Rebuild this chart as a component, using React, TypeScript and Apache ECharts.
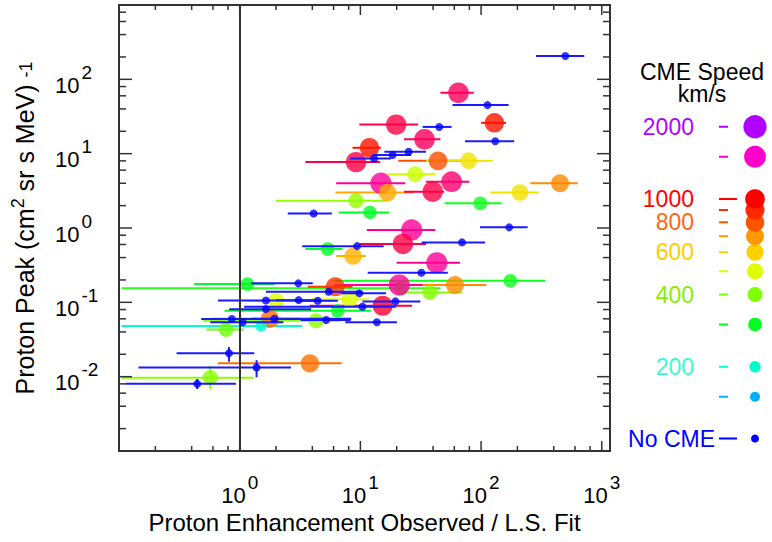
import React, { useEffect, useRef } from 'react';
import * as echarts from 'echarts';

const FONT = "'Liberation Sans', Arial, Helvetica, sans-serif";
const AXIS_COLOR = '#333333';

// ---- CME-associated events (x = enhancement, lo/hi = x error range, y = proton peak, speed km/s)
const cmeX = [21.7, 65, 19.8, 129, 34, 11.9, 9.2, 44, 79, 28.5, 14.8, 57, 451, 16.8, 39.7, 210, 9.2, 98.6, 12.0, 26.6, 22.5, 5.36, 8.7, 43, 1.16, 175, 21, 60.8, 6.2, 37.7, 2.0, 8.1, 15.3, 6.5, 1.78, 1.5, 4.29, 0.77, 3.82, 0.57];
const cmeXLo = [0.105, 46, 9.8, 100, 23, 8.6, 3.5, 20.6, 35, 16.8, 6.3, 35, 256, 6.2, 23, 119, 2.0, 50, 6.6, 11.3, 9.8, 3.5, 6.3, 20, 0.42, 6.0, 6.0, 32.8, 3.66, 20.4, 1.2, 3.9, 3.8, 0.75, 0.58, 0.105, 0.5, 0.53, 0.66, 0.105];
const cmeXHi = [46, 87, 30, 161, 46, 14.8, 14.6, 68, 125, 42, 23.5, 80, 631, 27.7, 49.5, 300, 16.8, 148, 17.3, 41.8, 35, 7.1, 11.1, 67, 1.94, 340, 60, 111, 8.6, 70, 6.0, 11.9, 26.8, 12.2, 3.2, 3.3, 6.9, 1.08, 7.0, 1.31];
const cmeY = [0.155, 66, 24.6, 26, 15.6, 12.0, 7.7, 8.0, 8.05, 5.3, 4.0, 4.2, 4.0, 3.0, 3.08, 3.0, 2.33, 2.15, 1.62, 0.94, 0.61, 0.52, 0.42, 0.34, 0.176, 0.195, 0.171, 0.171, 0.162, 0.136, 0.104, 0.11, 0.09, 0.077, 0.06, 0.048, 0.0565, 0.043, 0.0151, 0.0097];
const cmeYLo = [0, 0, 0, 0, 0, 0, 0, 0, 0, 0, 0, 0, 0, 0, 0, 0, 0, 0, 0, 0, 0, 0, 0, 0, 0, 0, 0, 0, 0, 0, 0, 0, 0, 0, 0, 0, 0, 0, 0, 0.0068];
const cmeYHi = [0, 0, 0, 0, 0, 0, 0, 0, 0, 0, 0, 0, 0, 0, 0, 0, 0, 0, 0, 0, 0, 0, 0, 0, 0, 0, 0, 0, 0, 0, 0, 0, 0, 0, 0, 0, 0, 0, 0, 0.0139];
const cmeSpeed = [330, 1200, 1150, 950, 1200, 950, 1150, 820, 560, 480, 1350, 1250, 720, 670, 1150, 560, 420, 310, 300, 1350, 1150, 300, 650, 1350, 300, 310, 1350, 720, 880, 400, 500, 500, 1100, 300, 760, 200, 410, 380, 760, 410];

// ---- Events without a CME
const noCmeX = [499, 113, 45, 131, 25.1, 18.5, 13, 4.1, 171, 69.5, 9.4, 32, 3.06, 5.46, 9.8, 1.65, 3.08, 4.43, 19.5, 10.4, 1.65, 0.86, 1.06, 1.94, 5.2, 13.7, 0.815, 1.38, 0.445];
const noCmeXLo = [285, 58, 32.8, 73.6, 15.8, 12.6, 8.2, 2.5, 98, 32.2, 3.3, 11.5, 1.24, 1.65, 6.9, 0.66, 2.0, 3.0, 10.4, 1.09, 0.82, 0.48, 0.57, 1.24, 3.2, 7.5, 0.30, 0.145, 0.114];
const noCmeXHi = [716, 169, 57, 188, 35, 26.3, 17.9, 5.8, 243, 108, 15.6, 53, 4.03, 10.4, 16.3, 4.7, 4.3, 6.5, 31.4, 19.7, 3.9, 3.4, 2.3, 8.4, 8.3, 20.1, 1.32, 2.66, 0.93];
const noCmeY = [206, 45, 22.9, 14.7, 10.6, 9.6, 8.6, 1.57, 1.02, 0.64, 0.57, 0.25, 0.18, 0.139, 0.132, 0.106, 0.107, 0.105, 0.103, 0.087, 0.081, 0.0596, 0.054, 0.06, 0.058, 0.054, 0.0206, 0.0133, 0.008];
const noCmeYLo = [0, 0, 0, 0, 0, 0, 0, 0, 0, 0, 0, 0, 0, 0, 0, 0, 0, 0, 0, 0, 0, 0, 0, 0, 0, 0, 0.0159, 0.0098, 0.0068];
const noCmeYHi = [0, 0, 0, 0, 0, 0, 0, 0, 0, 0, 0, 0, 0, 0, 0, 0, 0, 0, 0, 0, 0, 0, 0, 0, 0, 0, 0.025, 0.0167, 0.0093];

// ---- Axis ticks
const xDecades = [0.1, 1, 10, 100];
const yDecades = [0.001, 0.01, 0.1, 1, 10, 100];
const minorMultipliers = [2, 4, 6, 8];
const xMajorTicks = [0.1, 1, 10, 100, 1000];
const yMajorTicks = [0.001, 0.01, 0.1, 1, 10, 100, 1000];
const xLabelExponents = [0, 1, 2, 3];
const yLabelExponents = [-2, -1, 0, 1, 2];

// ---- Colour scale (CME speed)
const speedStops = [150, 200, 300, 400, 500, 600, 700, 800, 900, 1000, 1500, 2000];
const speedStopColors = ['#00b0ff', '#00ffcc', '#00ff22', '#80ff00', '#ddff00', '#ffd000', '#ff9900', '#ff5500', '#ff2a00', '#ff0000', '#ff00cc', '#b000ff'];
const legendLabelSpeeds = [2000, 1000, 800, 600, 400, 200];
const legendLabelColors = ['#b300ff', '#ff0000', '#ff6611', '#ffcc00', '#88ee00', '#33ffcc'];
const NO_CME_COLOR = '#0000ff';

function hexToRgb(h: string) {
  const n = parseInt(h.slice(1), 16);
  return [(n >> 16) & 255, (n >> 8) & 255, n & 255];
}
function speedColor(s: number): string {
  if (s <= speedStops[0]) return speedStopColors[0];
  for (let i = 0; i < speedStops.length - 1; i++) {
    if (s <= speedStops[i + 1]) {
      const t = (Math.log10(s) - Math.log10(speedStops[i])) / (Math.log10(speedStops[i + 1]) - Math.log10(speedStops[i]));
      const a = hexToRgb(speedStopColors[i]);
      const b = hexToRgb(speedStopColors[i + 1]);
      const c = a.map((v, k) => Math.round(v + (b[k] - v) * t));
      return `rgb(${c[0]},${c[1]},${c[2]})`;
    }
  }
  return speedStopColors[speedStops.length - 1];
}
function speedSize(s: number): number {
  return 10 + 11.8 * Math.log10(s / 150);
}
function legendY(s: number): number {
  return 199 - (Math.log10(s) - 3) * 240;
}

const RICH = {
  b: { fontSize: 22, fontFamily: FONT, color: '#000', padding: [12, 0, 0, 0] },
  e: { fontSize: 19, fontFamily: FONT, color: '#000', padding: [0, 0, 14, 2] },
};

function makeFormatter(allowed: number[]) {
  return (v: number) => {
    const l = Math.log10(v);
    const e = Math.round(l);
    if (Math.abs(l - e) > 0.01 || allowed.indexOf(e) < 0) return '';
    return `{b|10}{e|${e}}`;
  };
}

function buildOption() {
  const xMinor: number[] = [];
  xDecades.forEach((d) => minorMultipliers.forEach((m) => xMinor.push(d * m)));
  const yMinor: number[] = [];
  yDecades.forEach((d) => minorMultipliers.forEach((m) => yMinor.push(d * m)));

  const xTickData = [
    ...xMajorTicks.map((v) => [v, 1, 10]),
    ...xMinor.map((v) => [v, 1, 5]),
  ];
  const yTickData = [
    ...yMajorTicks.map((v) => [1, v, 13]),
    ...yMinor.map((v) => [1, v, 7]),
  ];

  const cmeErr = cmeX.map((x, i) => ({
    value: [x, cmeY[i], cmeXLo[i], cmeXHi[i], cmeYLo[i], cmeYHi[i]],
    itemStyle: { color: speedColor(cmeSpeed[i]) },
  }));
  const cmePts = cmeX.map((x, i) => ({
    value: [x, cmeY[i]],
    symbolSize: speedSize(cmeSpeed[i]),
    itemStyle: { color: speedColor(cmeSpeed[i]) },
  }));
  const noErr = noCmeX.map((x, i) => ({
    value: [x, noCmeY[i], noCmeXLo[i], noCmeXHi[i], noCmeYLo[i], noCmeYHi[i]],
    itemStyle: { color: '#1a1aff' },
  }));
  const noPts = noCmeX.map((x, i) => [x, noCmeY[i]]);

  const errRender = (params: any, api: any) => {
    const x = api.value(0), y = api.value(1), lo = api.value(2), hi = api.value(3), ylo = api.value(4), yhi = api.value(5);
    const color = api.visual('color');
    const p1 = api.coord([lo, y]);
    const p2 = api.coord([hi, y]);
    const children: any[] = [
      { type: 'line', shape: { x1: p1[0], y1: p1[1], x2: p2[0], y2: p2[1] }, style: { stroke: color, lineWidth: 2 } },
    ];
    if (ylo > 0 && yhi > 0) {
      const q1 = api.coord([x, ylo]);
      const q2 = api.coord([x, yhi]);
      children.push({ type: 'line', shape: { x1: q1[0], y1: q1[1], x2: q2[0], y2: q2[1] }, style: { stroke: color, lineWidth: 2 } });
    }
    return { type: 'group', children };
  };

  const xTickRender = (params: any, api: any) => {
    const cs = params.coordSys;
    const p = api.coord([api.value(0), 1]);
    const len = api.value(2);
    const bottom = cs.y + cs.height;
    return {
      type: 'group',
      children: [
        { type: 'line', shape: { x1: p[0], y1: bottom, x2: p[0], y2: bottom - len }, style: { stroke: AXIS_COLOR, lineWidth: 1.5 } },
        { type: 'line', shape: { x1: p[0], y1: cs.y, x2: p[0], y2: cs.y + len }, style: { stroke: AXIS_COLOR, lineWidth: 1.5 } },
      ],
    };
  };
  const yTickRender = (params: any, api: any) => {
    const cs = params.coordSys;
    const p = api.coord([1, api.value(1)]);
    const len = api.value(2);
    const right = cs.x + cs.width;
    return {
      type: 'group',
      children: [
        { type: 'line', shape: { x1: cs.x, y1: p[1], x2: cs.x + len, y2: p[1] }, style: { stroke: AXIS_COLOR, lineWidth: 1.5 } },
        { type: 'line', shape: { x1: right, y1: p[1], x2: right - len, y2: p[1] }, style: { stroke: AXIS_COLOR, lineWidth: 1.5 } },
      ],
    };
  };

  // legend graphics
  const graphics: any[] = [
    { type: 'text', x: 702, y: 83, style: { text: 'CME Speed\nkm/s', fill: '#000', font: `23px ${FONT}`, lineHeight: 22, align: 'center', verticalAlign: 'middle' } },
  ];
  speedStops.forEach((s) => {
    const y = legendY(s);
    const long = s === 1000;
    graphics.push({ type: 'line', shape: { x1: 719, y1: y, x2: long ? 737 : 728, y2: y }, style: { stroke: speedColor(s), lineWidth: 2 } });
    graphics.push({ type: 'circle', shape: { cx: 755, cy: y, r: speedSize(s) / 2 }, style: { fill: speedColor(s) } });
  });
  legendLabelSpeeds.forEach((s, i) => {
    graphics.push({ type: 'text', x: 694, y: legendY(s), style: { text: String(s), fill: legendLabelColors[i], font: `23px ${FONT}`, lineHeight: 20, align: 'right', verticalAlign: 'middle' } });
  });
  graphics.push({ type: 'text', x: 715, y: 438.5, style: { text: 'No CME', fill: NO_CME_COLOR, font: `23px ${FONT}`, lineHeight: 20, align: 'right', verticalAlign: 'middle' } });
  graphics.push({ type: 'line', shape: { x1: 719, y1: 438.5, x2: 737, y2: 438.5 }, style: { stroke: NO_CME_COLOR, lineWidth: 2 } });
  graphics.push({ type: 'circle', shape: { cx: 755, cy: 438.5, r: 4 }, style: { fill: NO_CME_COLOR } });

  const logAxisBase = {
    type: 'log',
    logBase: 10,
    axisTick: { show: false },
    splitLine: { show: false },
    axisLine: { show: true, onZero: false, lineStyle: { color: AXIS_COLOR, width: 2 } },
  };

  return {
    animation: false,
    backgroundColor: '#ffffff',
    textStyle: { fontFamily: FONT },
    grid: { left: 119, top: 5, width: 491, height: 446, containLabel: false },
    xAxis: [
      {
        ...logAxisBase,
        min: 0.1,
        max: 1170,
        position: 'bottom',
        axisLabel: { margin: 21, formatter: makeFormatter(xLabelExponents), rich: RICH, color: '#000' },
        name: 'Proton Enhancement Observed / L.S. Fit',
        nameLocation: 'middle',
        nameGap: 59,
        nameTextStyle: { fontSize: 24, color: '#000', fontFamily: FONT },
      },
      { ...logAxisBase, min: 0.1, max: 1170, position: 'top', axisLabel: { show: false } },
    ],
    yAxis: [
      {
        ...logAxisBase,
        min: 0.001,
        max: 1000,
        position: 'left',
        axisLabel: { margin: 64, align: 'left', formatter: makeFormatter(yLabelExponents), rich: RICH, color: '#000' },
        name: '{t|Proton Peak (cm}{s|2}{t| sr s MeV) }{u|-1}',
        nameLocation: 'middle',
        nameGap: 80,
        nameRotate: 90,
        nameTextStyle: {
          color: '#000',
          rich: {
            t: { fontSize: 25, fontFamily: FONT, color: '#000', padding: [2, 0, 0, 0] },
            s: { fontSize: 18, fontFamily: FONT, color: '#000', padding: [0, 0, 12, 0] },
            u: { fontSize: 18, fontFamily: FONT, color: '#000', padding: [3, 0, 0, 0] },
          },
        },
      },
      { ...logAxisBase, min: 0.001, max: 1000, position: 'right', axisLabel: { show: false } },
    ],
    graphic: graphics,
    series: [
      {
        type: 'custom',
        name: 'cmeErr',
        renderItem: errRender,
        data: cmeErr,
        z: 2,
        silent: true,
      },
      {
        type: 'scatter',
        name: 'cme',
        symbol: 'circle',
        data: cmePts,
        z: 3,
        silent: true,
        markLine: {
          silent: true,
          symbol: ['none', 'none'],
          label: { show: false },
          lineStyle: { color: AXIS_COLOR, width: 2, type: 'solid' },
          data: [{ xAxis: 1 }],
        },
      },
      {
        type: 'custom',
        name: 'noErr',
        renderItem: errRender,
        data: noErr,
        z: 4,
        silent: true,
      },
      {
        type: 'scatter',
        name: 'noCme',
        symbol: 'circle',
        symbolSize: 8,
        itemStyle: { color: NO_CME_COLOR },
        data: noPts,
        z: 5,
        silent: true,
      },
      { type: 'custom', name: 'xTicks', renderItem: xTickRender, data: xTickData, z: 6, silent: true },
      { type: 'custom', name: 'yTicks', renderItem: yTickRender, data: yTickData, z: 6, silent: true },
    ],
  };
}

export default function App() {
  const ref = useRef<HTMLDivElement>(null);
  useEffect(() => {
    if (!ref.current) return;
    const chart = echarts.init(ref.current, undefined, { renderer: 'svg' });
    chart.setOption(buildOption() as any);
    return () => chart.dispose();
  }, []);
  return (
    <div
      ref={ref}
      style={{ position: 'fixed', left: 0, top: 0, width: 772, height: 542, background: '#fff' }}
    />
  );
}
